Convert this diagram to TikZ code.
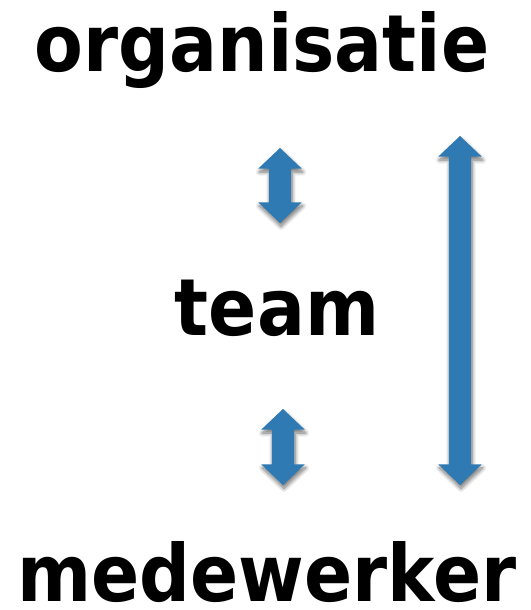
\documentclass[tikz,border=0pt]{standalone}
\usepackage{fontspec}
\setmainfont{DejaVu Sans Condensed}
\usetikzlibrary{shapes.arrows,shadows.blur}
\definecolor{arrowblue}{RGB}{47,122,178}
\tikzset{
	word/.style={
		font=\bfseries\fontsize{79}{90}\selectfont,
		inner sep=0pt,
		text depth=0pt,
		anchor=base},
	dblarrow/.style={
		double arrow,
		rotate=90,
		fill=arrowblue,
		draw=none,
		inner xsep=0pt,
		inner ysep=11pt,
		double arrow head extend=10.5pt,
		double arrow tip angle=93,
		blur shadow={shadow xshift=1pt, shadow yshift=-3.5pt,
			shadow blur steps=8, shadow blur radius=4pt,
			shadow opacity=55}},
}

\begin{document}
\begin{tikzpicture}[x=1pt,y=1pt]
\useasboundingbox (0,0) rectangle (530,610);

\node[word] (org) at (262,538) {organisatie};
\node[word] (team) at (277,274) {team};
\node[word] (mdw) at (267,8.5) {medewerker};

\node[dblarrow, minimum height=75pt] (orgteam) at (280,424.5) {};
\node[dblarrow, minimum height=76pt] (teammdw) at (283,163) {};
\node[dblarrow, minimum height=349pt] (orgmdw) at (460,299.5) {};
\end{tikzpicture}
\end{document}
